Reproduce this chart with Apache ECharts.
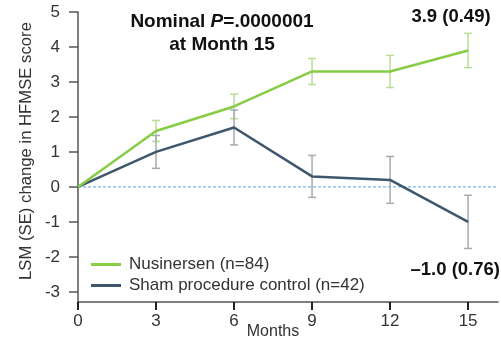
<!DOCTYPE html>
<html><head><meta charset="utf-8">
<script src="https://cdn.jsdelivr.net/npm/echarts@6/dist/echarts.min.js"></script>
<style>html,body{margin:0;padding:0;background:#fff}#c{width:501px;height:339px}</style>
</head><body><div id="c"></div>
<script>
const months = [0, 3, 6, 9, 12, 15];
const nusinersen = [0, 1.6, 2.3, 3.3, 3.3, 3.9];
const nusinersenSE = [0, 0.3, 0.35, 0.37, 0.46, 0.49];
const sham = [0, 1.0, 1.7, 0.3, 0.2, -1.0];
const shamSE = [0, 0.47, 0.5, 0.6, 0.67, 0.76];
const xTicks = [0, 3, 6, 9, 12, 15];
const yTicks = [-3, -2, -1, 0, 1, 2, 3, 4, 5];
const X_MIN = 0, X_MAX = 16.15, Y_MIN = -3.29, Y_MAX = 5;
const REF_Y = 0;

const GREEN = '#86cc45', GREEN_ERR = '#b9dd95';
const DARK = '#3e576d', DARK_ERR = '#a3abb3';
const FONT = 'Liberation Sans, Arial, sans-serif';

function errSeries(vals, se, color) {
  return {
    type: 'custom', silent: true, z: 1,
    data: months.map((m, i) => [m, vals[i], se[i]]).filter(d => d[2] > 0),
    renderItem: function (params, api) {
      const x = api.value(0), y = api.value(1), e = api.value(2);
      const top = api.coord([x, y + e]), bot = api.coord([x, y - e]);
      const w = 4;
      return {
        type: 'group', children: [
          {type: 'line', shape: {x1: top[0], y1: top[1], x2: bot[0], y2: bot[1]}, style: {stroke: color, lineWidth: 1.5}},
          {type: 'line', shape: {x1: top[0]-w, y1: top[1], x2: top[0]+w, y2: top[1]}, style: {stroke: color, lineWidth: 1.5}},
          {type: 'line', shape: {x1: bot[0]-w, y1: bot[1], x2: bot[0]+w, y2: bot[1]}, style: {stroke: color, lineWidth: 1.5}}
        ]
      };
    }
  };
}

const chart = echarts.init(document.getElementById('c'));
chart.setOption({
  animation: false,
  textStyle: {fontFamily: FONT},
  grid: {left: 78, right: 3, top: 12, bottom: 37, containLabel: false},
  xAxis: {
    type: 'value', min: X_MIN, max: X_MAX,
    axisLine: {onZero: false, lineStyle: {color: '#555', width: 1.5}},
    axisTick: {show: true, length: 8, customValues: xTicks, lineStyle: {color: '#222', width: 2}},
    axisLabel: {customValues: xTicks, fontSize: 17, color: '#333', margin: 11, fontFamily: FONT},
    splitLine: {show: false}
  },
  yAxis: {
    type: 'value', min: Y_MIN, max: Y_MAX,
    axisLine: {show: true, onZero: false, lineStyle: {color: '#555', width: 1.5}},
    axisTick: {show: true, length: 9, customValues: yTicks, lineStyle: {color: '#555', width: 1.5}},
    axisLabel: {customValues: yTicks, fontSize: 17, color: '#333', margin: 18, fontFamily: FONT},
    splitLine: {show: false}
  },
  legend: {
    left: 86, top: 251, orient: 'vertical', itemWidth: 30, itemHeight: 3, itemGap: 4,
    icon: 'rect',
    textStyle: {fontSize: 17, color: '#333', fontFamily: FONT, padding: [0, 0, 0, 3]},
    data: ['Nusinersen (n=84)', 'Sham procedure control (n=42)']
  },
  series: [
    {
      name: 'zero', type: 'line', symbol: 'none', silent: true, z: 0,
      data: [[X_MIN, REF_Y], [X_MAX, REF_Y]],
      lineStyle: {color: '#7db3e6', type: [3, 2], width: 1.2}
    },
    errSeries(nusinersen, nusinersenSE, GREEN_ERR),
    errSeries(sham, shamSE, DARK_ERR),
    {
      name: 'Nusinersen (n=84)', type: 'line', symbol: 'none', z: 3,
      data: months.map((m, i) => [m, nusinersen[i]]),
      lineStyle: {color: GREEN, width: 2.5}, itemStyle: {color: GREEN}
    },
    {
      name: 'Sham procedure control (n=42)', type: 'line', symbol: 'none', z: 2,
      data: months.map((m, i) => [m, sham[i]]),
      lineStyle: {color: DARK, width: 2.5}, itemStyle: {color: DARK}
    }
  ],
  graphic: [
    {type: 'text', x: 222, y: 22, style: {
      text: '{b|Nominal }{bi|P}{b|=.0000001}', align: 'center', verticalAlign: 'middle',
      rich: {
        b: {fontSize: 19, fontWeight: 'bold', fill: '#111', fontFamily: FONT},
        bi: {fontSize: 19, fontWeight: 'bold', fontStyle: 'italic', fill: '#111', fontFamily: FONT}
      }}},
    {type: 'text', x: 222, y: 45, style: {text: 'at Month 15', align: 'center', verticalAlign: 'middle',
      fontSize: 19, fontWeight: 'bold', fill: '#111', fontFamily: FONT}},
    {type: 'text', x: 451, y: 17, style: {text: '3.9 (0.49)', align: 'center', verticalAlign: 'middle',
      fontSize: 18.5, fontWeight: 'bold', fill: '#111', fontFamily: FONT}},
    {type: 'text', x: 500, y: 270, style: {text: '\u20131.0 (0.76)', align: 'right', verticalAlign: 'middle',
      fontSize: 18.5, fontWeight: 'bold', fill: '#111', fontFamily: FONT}},
    {type: 'text', x: 273, y: 332, style: {text: 'Months', align: 'center', verticalAlign: 'middle',
      fontSize: 16, fill: '#333', fontFamily: FONT}},
    {type: 'text', x: 26, y: 151, rotation: Math.PI / 2, style: {text: 'LSM (SE) change in HFMSE score',
      align: 'center', verticalAlign: 'middle', fontSize: 16.7, fill: '#333', fontFamily: FONT}}
  ]
});
</script></body></html>
